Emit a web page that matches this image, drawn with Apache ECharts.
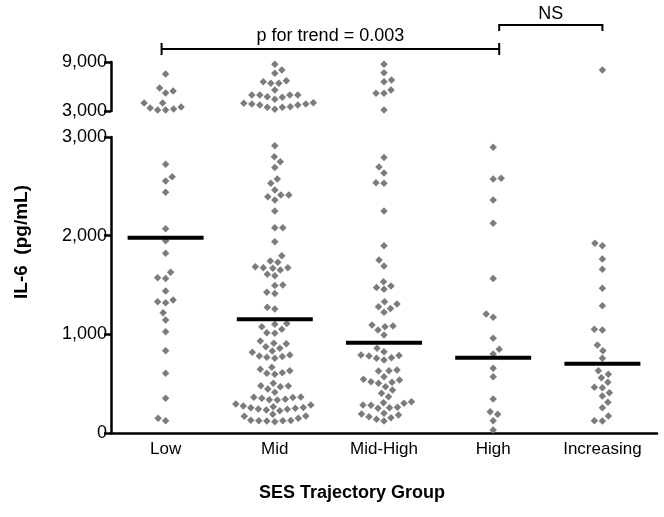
<!DOCTYPE html>
<html><head><meta charset="utf-8">
<script src="https://cdn.jsdelivr.net/npm/echarts@6/dist/echarts.min.js"></script>
<style>html,body{margin:0;padding:0;background:#fff}#c{width:664px;height:517px}</style>
</head><body><div id="c"></div>
<script>
const categories = ['Low', 'Mid', 'Mid-High', 'High', 'Increasing'];
const lowValues = [7530, 5820, 5450, 5200, 3980, 3490, 3370, 3250, 3120, 3120, 3980,
  2725, 2597, 2553, 2439, 2070, 1948, 1821, 1628, 1567, 1573, 1439, 1348, 1320, 1330, 1219, 1145, 1026, 834, 605, 352, 125, 149];
const midValues = [8720, 8020, 7610, 6710, 6590, 6390, 6390, 5570, 4960, 4960, 4680, 4430, 4750, 4960, 4960, 3860, 3860, 3730, 3450, 3210, 3450, 3530, 3730, 3940, 4020,
  2911, 2799, 2749, 2692, 2574, 2530, 2462, 2411, 2361, 2394, 2411, 2249, 2080, 2080, 1938, 1796, 1743, 1730, 1675, 1652, 1685, 1675, 1670, 1594, 1608, 1500, 1495,
  1415, 1426, 1274, 1256, 1077, 1101, 1111, 1051, 1016, 1012, 932, 909, 905, 874, 858, 831, 790, 780, 757, 767, 776, 818, 666, 631, 605, 595, 611, 645,
  479, 504, 476, 469, 446, 412, 362, 352, 341, 294, 334, 338, 360, 365, 274, 256, 250, 233, 226, 243, 240, 258, 266, 284,
  189, 172, 125, 122, 128, 114, 124, 126, 149, 170];
const midHighValues = [8720, 7690, 6590, 6790, 5170, 5170, 5570, 3120,
  2793, 2695, 2634, 2536, 2530, 2249, 1898, 1753, 1692, 1533, 1489, 1474, 1456, 1330, 1307, 1280, 1263, 1223, 1094, 1084, 1077, 1044, 993,
  858, 824, 790, 786, 780, 763, 757, 740, 638, 631, 628, 570, 544, 537, 520, 514, 504, 469, 436, 402, 368,
  317, 307, 301, 284, 280, 260, 256, 250, 200, 193, 182, 165, 155, 139, 122];
const highValues = [2895, 2581, 2575, 2361, 2125, 1567, 1172, 1206, 960, 848, 800, 656, 570, 344, 189, 216, 125, 30];
const increasingValues = [8020, 1922, 1898, 1763, 1659, 1466, 1290, 1051, 1044, 892, 834, 757, 631, 595, 560, 514, 463, 458, 408, 375, 311, 256, 172, 125, 122];
const medians = [1979, 1152, 915, 763, 702];
const lowerTicks = [0, 1000, 2000, 3000];
const upperTicks = [3000, 9000];
const breakValue = 3000;
const trendText = 'p for trend = 0.003';
const nsText = 'NS';
const yTitle = 'IL-6  (pg/mL)';
const xTitle = 'SES Trajectory Group';

const groups = [lowValues, midValues, midHighValues, highValues, increasingValues];
const FONT = '"Liberation Sans", Arial, Helvetica, sans-serif';
const fmt = v => String(v).replace(/\B(?=(\d{3})+(?!\d))/g, ',');
const axisLineStyle = { color: '#000', width: 2.5 };

const chart = echarts.init(document.getElementById('c'));
chart.setOption({
  animation: false,
  backgroundColor: '#fff',
  grid: [
    { left: 111, right: 7, top: 137, height: 296 },
    { left: 111, right: 7, top: 62, height: 49 }
  ],
  xAxis: [
    { type: 'category', gridIndex: 0, data: categories,
      axisLine: { onZero: false, lineStyle: axisLineStyle },
      axisTick: { alignWithLabel: true, length: 6, lineStyle: axisLineStyle },
      axisLabel: { color: '#000', fontSize: 17, fontFamily: FONT, margin: 8 } },
    { type: 'value', gridIndex: 0, min: -0.5, max: 4.5, show: false },
    { type: 'value', gridIndex: 1, min: -0.5, max: 4.5, show: false }
  ],
  yAxis: [
    { type: 'value', gridIndex: 0, min: lowerTicks[0], max: lowerTicks[lowerTicks.length - 1], interval: 1000,
      axisLine: { show: true, onZero: false, lineStyle: axisLineStyle },
      axisTick: { show: true, length: 7, lineStyle: axisLineStyle },
      axisLabel: { color: '#000', fontSize: 18, fontFamily: FONT, margin: 4, formatter: fmt },
      splitLine: { show: false } },
    { type: 'value', gridIndex: 1, min: upperTicks[0], max: upperTicks[1], interval: 6000,
      axisLine: { show: true, onZero: false, lineStyle: axisLineStyle },
      axisTick: { show: true, length: 7, lineStyle: axisLineStyle, customValues: upperTicks },
      axisLabel: { color: '#000', fontSize: 18, fontFamily: FONT, margin: 4, formatter: fmt, customValues: upperTicks },
      splitLine: { show: false } }
  ],
  series: []
});

// beeswarm layout in pixel space
function swarmOffsets(pys, d) {
  const idx = pys.map((y, i) => i).sort((a, b) => pys[b] - pys[a]);
  const placed = [];
  const off = new Array(pys.length).fill(0);
  let flip = 1;
  idx.forEach(i => {
    const y = pys[i];
    const near = placed.filter(q => Math.abs(q.y - y) < d);
    let chosen = 0;
    outer: for (let k = 0; k <= 400; k++) {
      const mag = k * 0.5;
      for (const s of [flip, -flip]) {
        const x = s * mag;
        if (near.every(q => (q.x - x) * (q.x - x) + (q.y - y) * (q.y - y) >= d * d)) { chosen = x; break outer; }
        if (mag === 0) break;
      }
    }
    flip = -flip;
    placed.push({ x: chosen, y });
    off[i] = chosen;
  });
  return off;
}

const px0 = chart.convertToPixel({ xAxisIndex: 1 }, 0);
const band = chart.convertToPixel({ xAxisIndex: 1 }, 1) - px0;
const lowerData = [], upperData = [];
groups.forEach((vals, c) => {
  const pys = vals.map(v => v > breakValue ? chart.convertToPixel({ yAxisIndex: 1 }, v) : chart.convertToPixel({ yAxisIndex: 0 }, v));
  const offs = swarmOffsets(pys, 7.6);
  vals.forEach((v, i) => {
    const x = c + offs[i] / band;
    if (v > breakValue) upperData.push([x, v]); else lowerData.push([x, v]);
  });
});

const xL = chart.convertToPixel({ xAxisIndex: 1 }, 0) - 4;
const xH = chart.convertToPixel({ xAxisIndex: 1 }, 3) + 6;
const xI = chart.convertToPixel({ xAxisIndex: 1 }, 4);
const ln = (x1, y1, x2, y2) => ({ type: 'line', shape: { x1, y1, x2, y2 }, style: { stroke: '#000', lineWidth: 2 } });
const txt = (x, y, text, size, bold, rot) => ({ type: 'text', x, y, rotation: rot || 0,
  style: { text, fontSize: size, fontWeight: bold ? 'bold' : 'normal', fontFamily: FONT, fill: '#000', align: 'center', verticalAlign: 'middle' } });

const dot = { type: 'scatter', symbol: 'diamond', symbolSize: 7.5, itemStyle: { color: '#7c7c7c', opacity: 1 }, silent: true };
chart.setOption({
  series: [
    Object.assign({ xAxisIndex: 1, yAxisIndex: 0, data: lowerData }, dot),
    Object.assign({ xAxisIndex: 2, yAxisIndex: 1, data: upperData }, dot),
    { type: 'scatter', xAxisIndex: 1, yAxisIndex: 0, symbol: 'rect', symbolSize: [76, 4], z: 5, silent: true,
      itemStyle: { color: '#000', opacity: 1 }, data: medians.map((m, i) => [i, m]) }
  ],
  graphic: [
    ln(xL, 49, xH, 49), ln(xL, 43, xL, 55), ln(xH, 43, xH, 55),
    txt((xL + xH) / 2, 36, trendText, 18),
    ln(xH, 25, xI, 25), ln(xH, 24, xH, 31), ln(xI, 24, xI, 31),
    txt((xH + xI) / 2, 14, nsText, 18),
    txt(22, 242, yTitle, 19, true, Math.PI / 2),
    txt(352, 493, xTitle, 18, true)
  ]
});
</script></body></html>
